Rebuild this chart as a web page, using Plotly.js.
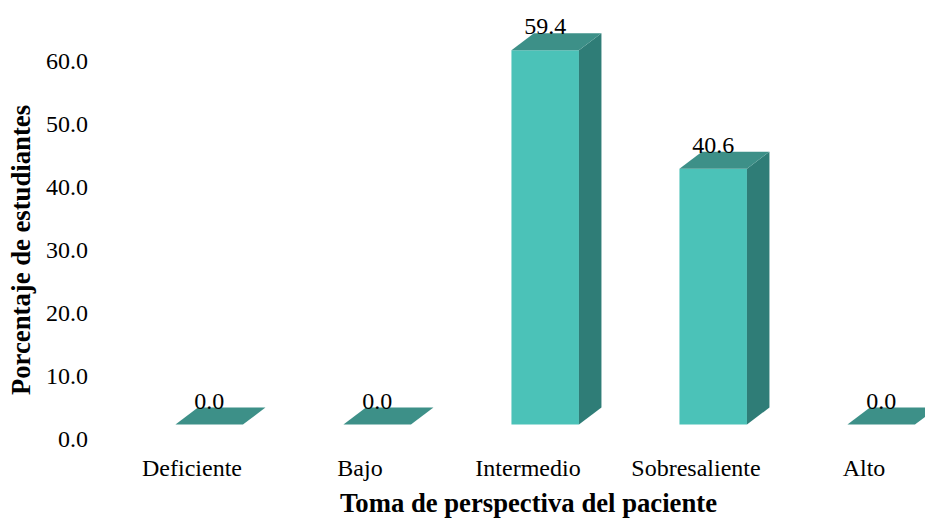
<!DOCTYPE html>
<html>
<head>
<meta charset="utf-8">
<script src="https://cdn.plot.ly/plotly-3.0.1.min.js"></script>
<style>html,body{margin:0;padding:0;background:#fff;overflow:hidden}</style>
</head>
<body>
<div id="chart" style="width:925px;height:518px"></div>
<script>
// Percentage of students per level
const categories = ["Deficiente", "Bajo", "Intermedio", "Sobresaliente", "Alto"];
const percentages = [0.0, 0.0, 59.4, 40.6, 0.0];
const yTicks = [0, 10, 20, 30, 40, 50, 60];

// Pseudo-3D box geometry, in axis units
const pxPerCat = 168, pxPerPct = 6.3;
const barShift = 17.2 / pxPerCat;
const barWidth = 67.5 / pxPerCat;
const floor = 14.5 / pxPerPct;
const depthX = 22.5 / pxPerCat;
const depthY = 17 / pxPerPct;
const labelLift = 5 / pxPerPct;

const FRONT = "#4bc2b8", TOP = "#3d9088", SIDE = "#2f7d77";
const FONT = "Liberation Serif, Times New Roman, serif";

const centers = categories.map((_, i) => i + barShift);
const traces = [{
  type: "bar",
  x: centers,
  y: percentages,
  base: percentages.map(() => floor),
  width: barWidth,
  marker: {color: FRONT, line: {width: 0}},
  hoverinfo: "skip"
}];

percentages.forEach((v, i) => {
  const x0 = centers[i] - barWidth / 2, x1 = centers[i] + barWidth / 2;
  const top = v + floor;
  if (v > 0) {
    traces.push({
      type: "scatter", mode: "lines", fill: "toself", fillcolor: SIDE,
      line: {width: 0}, hoverinfo: "skip",
      x: [x1, x1 + depthX, x1 + depthX, x1, x1],
      y: [floor, floor + depthY, top + depthY, top, floor]
    });
  }
  traces.push({
    type: "scatter", mode: "lines", fill: "toself", fillcolor: TOP,
    line: {width: 0}, hoverinfo: "skip",
    x: [x0, x1, x1 + depthX, x0 + depthX, x0],
    y: [top, top, top + depthY, top + depthY, top]
  });
});

traces.push({
  type: "scatter", mode: "text",
  x: centers,
  y: percentages.map(v => v + floor + depthY + labelLift),
  text: percentages.map(v => v.toFixed(1)),
  textposition: "middle center",
  textfont: {family: FONT, size: 24, color: "#000"},
  cliponaxis: false,
  hoverinfo: "skip"
});

// The plot box runs past the zero line so that both axis titles sit at their own centres
const marginLeft = 132, marginTop = 3, plotBottom = 497;
const layout = {
  width: 925, height: 518,
  margin: {l: marginLeft, r: 0, t: marginTop, b: 518 - plotBottom, pad: 0},
  paper_bgcolor: "#fff", plot_bgcolor: "#fff",
  showlegend: false,
  font: {family: FONT, size: 24, color: "#000"},
  xaxis: {
    range: [-0.5 + 24 / pxPerCat, -0.5 + 817 / pxPerCat],
    anchor: "free",
    position: (plotBottom - 439) / (plotBottom - marginTop),
    tickmode: "array",
    tickvals: categories.map((_, i) => i),
    ticktext: categories,
    ticks: "", showgrid: false, zeroline: false, showline: false,
    ticklabelstandoff: 12,
    tickfont: {family: FONT, size: 24},
    title: {text: "<b>Toma de perspectiva del paciente</b>", font: {family: FONT, size: 26.7}, standoff: 20}
  },
  yaxis: {
    range: [(439 - plotBottom) / pxPerPct, (439 - marginTop) / pxPerPct],
    tickmode: "array",
    tickvals: yTicks,
    ticktext: yTicks.map(t => t.toFixed(1)),
    ticks: "", showgrid: false, zeroline: false, showline: false,
    ticklabelstandoff: 43,
    tickfont: {family: FONT, size: 24},
    title: {text: "<b>Porcentaje de estudiantes</b>", font: {family: FONT, size: 26.7}, standoff: 7}
  }
};

Plotly.newPlot("chart", traces, layout, {displayModeBar: false, staticPlot: true});
</script>
</body>
</html>
